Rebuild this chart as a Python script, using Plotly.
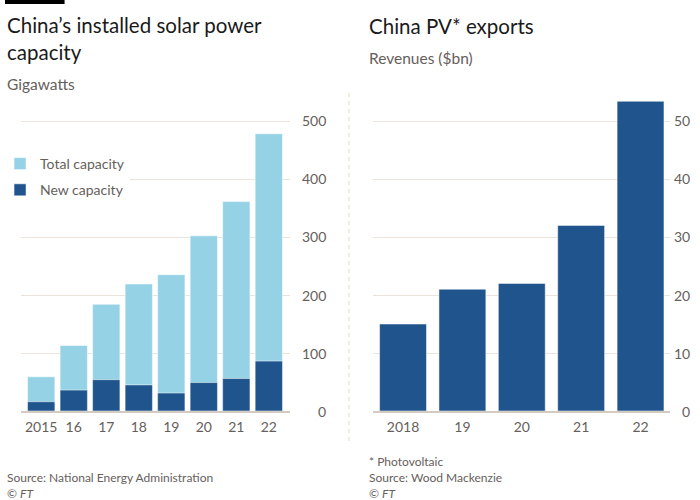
import plotly.graph_objects as go

# ---- data ----
years_left = ["2015", "2016", "2017", "2018", "2019", "2020", "2021", "2022"]
year_labels_left = ["2015", "16", "17", "18", "19", "20", "21", "22"]
total_capacity = [59, 113, 184, 219, 235, 302, 361, 478]
new_capacity = [16, 36, 54, 45, 31, 49, 56, 86]
left_ticks = [0, 100, 200, 300, 400, 500]

years_right = ["2018", "2019", "2020", "2021", "2022"]
year_labels_right = ["2018", "19", "20", "21", "22"]
export_revenues = [15, 21, 22, 32, 53.4]
right_ticks = [0, 10, 20, 30, 40, 50]

W, H = 700, 500
FONT = "Lato"
GREY = "#66605c"
LIGHT = "#96d2e6"
DARK = "#1f558c"
GRID = "#ece3db"
BASE = "#d3cac1"


def px(x):
    return x / W


def py(y):
    return 1 - y / H


fig = go.Figure()
fig.add_trace(go.Bar(x=years_left, y=total_capacity, name="Total capacity",
                     marker=dict(color=LIGHT, line=dict(color="rgba(255,255,255,0.5)", width=1)),
                     xaxis="x", yaxis="y", legendgroup="a"))
fig.add_trace(go.Bar(x=years_left, y=new_capacity, name="New capacity",
                     marker=dict(color=DARK, line=dict(color="rgba(255,255,255,0.5)", width=1)),
                     xaxis="x", yaxis="y", legendgroup="b"))
fig.add_trace(go.Bar(x=years_right, y=export_revenues, name="Revenues",
                     marker=dict(color=DARK, line=dict(color="rgba(255,255,255,0.5)", width=1)),
                     xaxis="x2", yaxis="y2", showlegend=False, width=0.79))

ytop_px, y0_px = 100, 411
ydom = [py(y0_px), py(ytop_px)]
left_max = (y0_px - ytop_px) / 0.58
right_max = (y0_px - ytop_px) / 5.8

axis_common = dict(showgrid=False, zeroline=False, tickfont=dict(family=FONT, size=14, color=GREY),
                   ticks="outside", ticklen=2, tickcolor="rgba(0,0,0,0)",
                   showline=True, linecolor=BASE, linewidth=2, fixedrange=True)
fig.update_layout(
    width=W, height=H, margin=dict(l=0, r=0, t=0, b=0),
    paper_bgcolor="white", plot_bgcolor="white",
    barmode="overlay", bargap=0.16,
    font=dict(family=FONT, color=GREY),
    xaxis=dict(domain=[px(15.7), px(287)], range=[-0.635, 7.65], anchor="y",
               tickmode="array", tickvals=years_left, ticktext=year_labels_left, **axis_common),
    yaxis=dict(domain=ydom, range=[0, left_max], anchor="x", showticklabels=False,
               showgrid=True, gridcolor=GRID, gridwidth=1, zeroline=False,
               tickmode="array", tickvals=left_ticks, fixedrange=True),
    xaxis2=dict(domain=[px(371), px(670)], range=[-0.5, 4.5], anchor="y2",
                tickmode="array", tickvals=years_right, ticktext=year_labels_right, **axis_common),
    yaxis2=dict(domain=ydom, range=[0, right_max], anchor="x2", showticklabels=False,
                showgrid=True, gridcolor=GRID, gridwidth=1, zeroline=False,
                tickmode="array", tickvals=right_ticks, fixedrange=True),
    legend=dict(x=px(-5), y=py(148), xanchor="left", yanchor="top",
                bgcolor="white", font=dict(family=FONT, size=14, color=GREY),
                traceorder="grouped", tracegroupgap=5, itemwidth=30),
    showlegend=True,
)

annotations = []
for v in left_ticks:
    annotations.append(dict(x=px(325), xref="paper", y=v, yref="y", text=str(v),
                            xanchor="right", yanchor="middle", showarrow=False,
                            font=dict(family=FONT, size=14, color=GREY)))
for v in right_ticks:
    annotations.append(dict(x=px(692), xref="paper", y=v, yref="y2", text=str(v),
                            xanchor="right", yanchor="middle", showarrow=False,
                            font=dict(family=FONT, size=14, color=GREY)))


def text(x, y, s, size, color, **kw):
    annotations.append(dict(x=px(x), y=py(y), xref="paper", yref="paper", text=s,
                            xanchor="left", yanchor="middle", showarrow=False,
                            align="left", font=dict(family=FONT, size=size, color=color), **kw))


text(0, 39, "China’s installed solar power<br>capacity", 20.5, "#1a1a1a")
text(0, 84, "Gigawatts", 15.5, GREY)
text(365, 26, "China PV* exports", 20.5, "#1a1a1a")
text(365, 58, "Revenues ($bn)", 15.5, GREY)
text(0, 477, "Source: National Energy Administration", 12, GREY)
text(0, 493, "© <i>FT</i>", 12, GREY)
text(365, 461, "* Photovoltaic", 12, GREY)
text(365, 477, "Source: Wood Mackenzie", 12, GREY)
text(365, 493, "© <i>FT</i>", 12, GREY)
fig.update_layout(annotations=annotations)

fig.update_layout(shapes=[
    dict(type="rect", xref="paper", yref="paper", x0=0, x1=px(60), y0=py(4), y1=py(0),
         fillcolor="black", line=dict(width=0)),
    dict(type="line", xref="paper", yref="paper", x0=px(346.5), x1=px(346.5), y0=py(93), y1=py(445),
         line=dict(color="#e8d8c8", width=1, dash="4px,4px")),
])

fig.write_html("out.html", config={"displayModeBar": False, "staticPlot": True},
               post_script="document.body.style.margin='0';document.body.style.overflow='hidden';")
